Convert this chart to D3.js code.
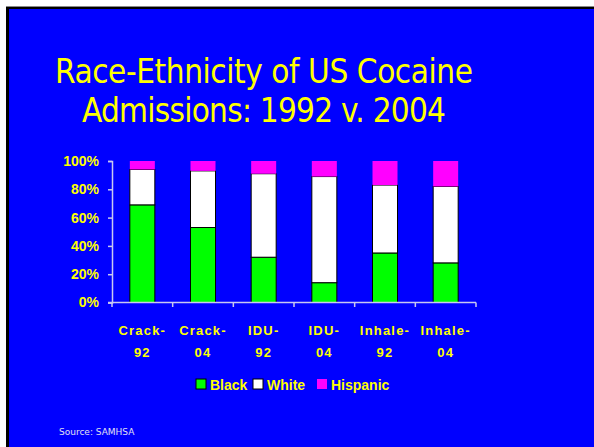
<!DOCTYPE html>
<html>
<head>
<meta charset="utf-8">
<script src="https://cdn.jsdelivr.net/npm/d3@7"></script>
<style>
  html, body { margin: 0; padding: 0; background: #fff; }
  svg { display: block; }
</style>
</head>
<body>
<svg id="chart" width="594" height="447"></svg>
<script>
// Admissions by treatment group, share of each race-ethnicity (percent)
const categories = [["Crack-", "92"], ["Crack-", "04"], ["IDU-", "92"], ["IDU-", "04"], ["Inhale-", "92"], ["Inhale-", "04"]];
const seriesNames = ["Black", "White", "Hispanic"];
const black    = [69, 53, 32, 14, 35, 28];
const white    = [25, 40, 59, 75, 48, 54];
const hispanic = [6, 7, 9, 11, 17, 18];
const yTicks = [0, 20, 40, 60, 80, 100];
const titleLines = ["Race-Ethnicity of US Cocaine", "Admissions: 1992 v. 2004"];
const sourceText = "Source: SAMHSA";

const colors = { Black: "#00ff00", White: "#ffffff", Hispanic: "#ff00ff" };
const yellow = "#ffff00";

const svg = d3.select("#chart");

// slide background with dark frame
svg.append("rect").attr("x", 0).attr("y", 0).attr("width", 594).attr("height", 447).attr("fill", "#fff");
svg.append("rect").attr("x", 6).attr("y", 6).attr("width", 588).attr("height", 441).attr("fill", "#000");
svg.append("rect").attr("x", 6).attr("y", 6).attr("width", 588).attr("height", 1).attr("fill", "#888");
svg.append("rect").attr("x", 9).attr("y", 9).attr("width", 585).attr("height", 438).attr("fill", "#0000ff");

// title
const narrow = "'Liberation Sans Narrow', 'DejaVu Sans Condensed', sans-serif";
const titleWidths = [418, 364];
titleLines.forEach((t, i) => {
  svg.append("text")
    .attr("x", 264).attr("y", 83 + i * 39)
    .attr("text-anchor", "middle")
    .attr("font-family", narrow)
    .attr("font-size", 33)
    .attr("fill", yellow)
    .attr("textLength", titleWidths[i])
    .attr("lengthAdjust", "spacing")
    .text(t);
});

// scales
const x = d3.scaleBand().domain(d3.range(categories.length)).range([112, 476]).paddingInner(0).paddingOuter(0);
const y = d3.scaleLinear().domain([0, 100]).range([302.5, 161]);
const barW = 25;

const rows = categories.map((c, i) => ({ i, Black: black[i], White: white[i], Hispanic: hispanic[i] }));
const stacked = d3.stack().keys(seriesNames)(rows);

// bars
const g = svg.append("g");
stacked.forEach(layer => {
  g.selectAll(null).data(layer).enter().append("rect")
    .attr("x", d => x(d.data.i) + x.bandwidth() / 2 - barW / 2)
    .attr("y", d => y(d[1]))
    .attr("width", barW)
    .attr("height", d => y(d[0]) - y(d[1]))
    .attr("fill", colors[layer.key])
    .attr("stroke", layer.key === "Hispanic" ? "none" : "#000")
    .attr("stroke-width", 1);
});

// y axis
const axisColor = "#c8c8f0";
const yAxis = svg.append("g").attr("transform", "translate(112,0)")
  .call(d3.axisLeft(y).tickValues(yTicks).tickFormat(d => d + "%").tickSize(4).tickPadding(9));
yAxis.select(".domain").attr("stroke", axisColor).attr("stroke-width", 1.5);
yAxis.selectAll(".tick line").attr("stroke", axisColor).attr("stroke-width", 1.5);
yAxis.selectAll(".tick text")
  .attr("fill", yellow)
  .attr("font-family", "'Liberation Sans', Arial, sans-serif")
  .attr("font-size", 14)
  .attr("font-weight", "bold");

// x axis (ticks between bands)
const xAxisG = svg.append("g");
xAxisG.append("line").attr("x1", 108).attr("x2", 476).attr("y1", 302.5).attr("y2", 302.5)
  .attr("stroke", axisColor).attr("stroke-width", 1.5);
const bounds = d3.range(categories.length + 1).map(k => k === categories.length ? x.range()[1] : x(k));
xAxisG.selectAll(null).data(bounds).enter().append("line")
  .attr("x1", d => d).attr("x2", d => d).attr("y1", 302.5).attr("y2", 307)
  .attr("stroke", axisColor).attr("stroke-width", 1.5);

// category labels
categories.forEach((c, i) => {
  const cx = x(i) + x.bandwidth() / 2;
  c.forEach((line, k) => {
    svg.append("text")
      .attr("x", cx).attr("y", 335 + k * 22)
      .attr("text-anchor", "middle")
      .attr("font-family", "'Liberation Sans', Arial, sans-serif")
      .attr("font-size", 13)
      .attr("font-weight", "bold")
      .attr("letter-spacing", 1.2)
      .attr("fill", yellow)
      .text(line);
  });
});

// legend
const legendItems = [
  { key: "Black", bx: 196 },
  { key: "White", bx: 253 },
  { key: "Hispanic", bx: 317 }
];
legendItems.forEach(it => {
  svg.append("rect").attr("x", it.bx).attr("y", 379).attr("width", 10).attr("height", 10)
    .attr("fill", colors[it.key])
    .attr("stroke", it.key === "Hispanic" ? "none" : "#000").attr("stroke-width", 1);
  svg.append("text").attr("x", it.bx + 14).attr("y", 389.5)
    .attr("font-family", "'Liberation Sans', Arial, sans-serif")
    .attr("font-size", 14).attr("font-weight", "bold")
    .attr("fill", yellow).text(it.key);
});

// source note
svg.append("text").attr("x", 59).attr("y", 435)
  .attr("font-family", "'DejaVu Sans', sans-serif")
  .attr("font-size", 9).attr("fill", "#e0e0f0").text(sourceText);
</script>
</body>
</html>
